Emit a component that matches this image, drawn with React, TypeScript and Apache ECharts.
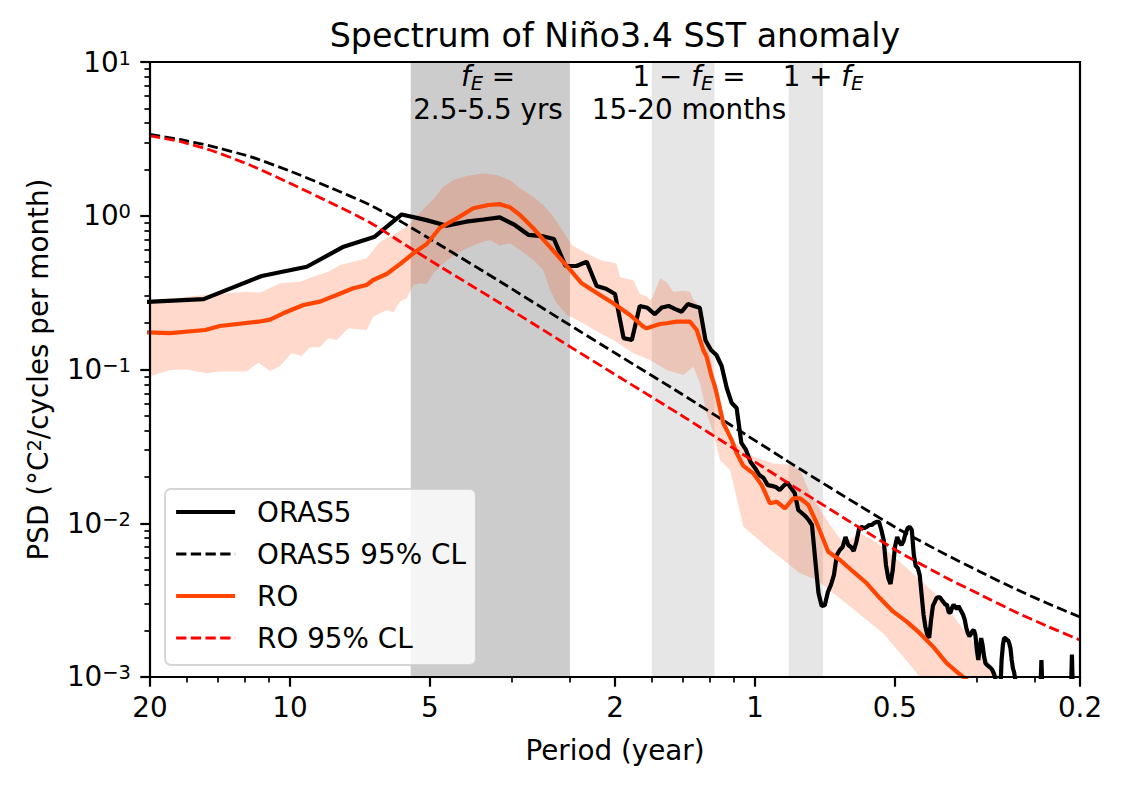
import React, { useEffect, useRef } from "react";
import * as echarts from "echarts";

const FONT = "DejaVu Sans";
const FS = 27.8; // 10pt at 200 dpi
const FS_SMALL = 19.5;

// ---------------- data ----------------
// x axis is frequency (cycles per year), labelled with period (years)
const xTickPeriods = [20, 10, 5, 2, 1, 0.5, 0.2];
const xMinorFreq = [0.06, 0.07, 0.08, 0.09, 0.3, 0.4, 0.6, 0.7, 0.8, 0.9, 3, 4];
const yTickValues = [0.001, 0.01, 0.1, 1, 10];
const yMinorValues = [
  0.002, 0.003, 0.004, 0.005, 0.006, 0.007, 0.008, 0.009,
  0.02, 0.03, 0.04, 0.05, 0.06, 0.07, 0.08, 0.09,
  0.2, 0.3, 0.4, 0.5, 0.6, 0.7, 0.8, 0.9,
  2, 3, 4, 5, 6, 7, 8, 9,
];

// f_E band, in years
const fePeriodYears = [2.5, 5.5];

// ORAS5 spectrum at Fourier frequencies k/46 cycles per year, k = 2, 3, ...
const ORAS5_DF = 1 / 46;
const ORAS5_K0 = 2;
const oras5Psd = [
  0.27, 0.287, 0.406, 0.466, 0.629, 0.731, 1.02, 0.94, 0.862,
  0.915, 0.945, 0.977, 0.871, 0.75, 0.738, 0.706, 0.471, 0.471, 0.502,
  0.349, 0.335, 0.31, 0.16, 0.1556, 0.259, 0.252, 0.2286, 0.253, 0.259,
  0.247, 0.2377, 0.2667, 0.259, 0.252, 0.155, 0.134, 0.1243, 0.1054, 0.0758,
  0.0605, 0.0562, 0.0333, 0.03, 0.025, 0.0229, 0.0206, 0.0197, 0.0177, 0.0175,
  0.0172, 0.01646, 0.0175, 0.01835, 0.01696, 0.01573, 0.0122, 0.01166, 0.01115, 0.0105,
  0.00974, 0.00577, 0.00352, 0.0029, 0.00293, 0.00357, 0.00397, 0.0046, 0.00622, 0.0067,
  0.00701, 0.00814, 0.00722, 0.00701, 0.0066, 0.00755, 0.00918, 0.00946, 0.0093, 0.00946,
  0.00974, 0.00974, 0.01004, 0.0102, 0.0102, 0.00904, 0.00778, 0.00535, 0.0044, 0.00403,
  0.00497, 0.00701, 0.00814, 0.00755, 0.00722, 0.00766, 0.00864, 0.0093, 0.00946, 0.00904,
  0.00622, 0.00527, 0.00512, 0.0046, 0.00341, 0.00253, 0.00211, 0.00188, 0.0018, 0.00235,
  0.0029, 0.00307, 0.00326, 0.0033, 0.0033, 0.00317, 0.00307, 0.00296, 0.00296, 0.00265,
  0.0026, 0.00281, 0.00296, 0.00285, 0.00277, 0.0029, 0.00277, 0.00265, 0.00253, 0.00235,
  0.00208, 0.00193, 0.00184, 0.0019, 0.00199, 0.00202, 0.00188, 0.0015, 0.00129, 0.00154,
  0.00179, 0.00161, 0.00137, 0.00123, 0.0012, 0.00118, 0.00116, 0.00114, 0.00111, 0.00106,
  0.001, 0.00089, 0.0008, 0.0008, 0.0008, 0.00129, 0.00161, 0.00179, 0.00179, 0.00174,
  0.00174, 0.00166, 0.00154, 0.00129, 0.00114, 0.00107, 0.00095, 0.0008, 0.0008, 0.0008,
  0.0008, 0.0008, 0.0008, 0.0008, 0.0008, 0.0008, 0.0008, 0.0008, 0.0008, 0.0008,
  0.0008, 0.0008, 0.0008, 0.0008, 0.0008, 0.0008, 0.0008, 0.0008, 0.0008, 0.00129,
  0.0008, 0.0008, 0.0008, 0.0008, 0.0008, 0.0008, 0.0008, 0.0008, 0.0008, 0.0008,
  0.0008, 0.0008, 0.0008, 0.0008, 0.0008, 0.0008, 0.0008, 0.0008, 0.0008, 0.0008,
  0.0008, 0.0008, 0.0008, 0.0008, 0.0008, 0.0008, 0.0008, 0.0008, 0.0008, 0.0008,
  0.0014, 0.0008, 0.0008, 0.0008, 0.0008, 0.0008, 0.0008, 0.0008, 0.0008, 0.0008,
];

// ORAS5 95% confidence level (red-noise)
const oras5ClFreq = [0.05, 0.058, 0.0673, 0.082, 0.1, 0.122, 0.1486, 0.1724, 0.2102, 0.2828, 0.3809, 0.5124, 0.69, 0.9286, 1.25, 1.6825, 2.051, 2.584, 3.047, 3.594, 4.24, 5.0];
const oras5Cl = [3.377, 3.133, 2.843, 2.429, 1.954, 1.526, 1.175, 0.9245, 0.6453, 0.3736, 0.2131, 0.1224, 0.07034, 0.03981, 0.02253, 0.01295, 0.009039, 0.006216, 0.004841, 0.003792, 0.003029, 0.002456];

// RO ensemble-mean spectrum
const roFreq = [0.048, 0.0552, 0.0657, 0.0707, 0.0855, 0.0906, 0.0967, 0.1069, 0.116, 0.126, 0.1368, 0.1462, 0.151, 0.1614, 0.1724, 0.1842, 0.1968, 0.2102, 0.2284, 0.2479, 0.267, 0.2828, 0.2973, 0.3124, 0.3336, 0.3566, 0.3809, 0.4036, 0.424, 0.4642, 0.4958, 0.5385, 0.5754, 0.585, 0.625, 0.646, 0.6786, 0.725, 0.7494, 0.774, 0.787, 0.807, 0.8204, 0.827, 0.841, 0.855, 0.8695, 0.891, 0.9136, 0.944, 0.9917, 1.034, 1.077, 1.114, 1.16, 1.209, 1.25, 1.3025, 1.358, 1.4375, 1.5235, 1.6275, 1.739, 1.8575, 1.984, 2.12, 2.2645, 2.418, 2.584, 2.737, 2.829, 3.047];
const roPsd = [0.175, 0.1724, 0.1807, 0.1919, 0.2046, 0.211, 0.232, 0.2627, 0.2764, 0.305, 0.3374, 0.3546, 0.382, 0.418, 0.485, 0.57, 0.655, 0.835, 0.962, 1.118, 1.175, 1.19, 1.135, 1.011, 0.829, 0.662, 0.529, 0.4326, 0.3636, 0.305, 0.2695, 0.2262, 0.19, 0.1854, 0.1977, 0.1998, 0.2046, 0.2046, 0.1807, 0.134, 0.121, 0.0898, 0.0773, 0.07, 0.0556, 0.0447, 0.0404, 0.0348, 0.0285, 0.0236, 0.0211, 0.0177, 0.01349, 0.0138, 0.0125, 0.01454, 0.01454, 0.01315, 0.01, 0.00653, 0.00577, 0.00484, 0.00407, 0.00325, 0.00266, 0.00229, 0.00192, 0.00157, 0.00123, 0.00106, 0.00098, 0.0008];

// RO ensemble spread (upper / lower)
const roUpperFreq = [0.048, 0.0552, 0.05996, 0.0657, 0.0807, 0.0862, 0.0952, 0.1051, 0.1122, 0.1209, 0.1281, 0.1368, 0.1462, 0.1561, 0.1668, 0.1782, 0.1904, 0.2034, 0.2137, 0.2246, 0.24, 0.2605, 0.2783, 0.2973, 0.3124, 0.3336, 0.3506, 0.3684, 0.3871, 0.4036, 0.4346, 0.4642, 0.504, 0.5124, 0.5475, 0.566, 0.585, 0.5947, 0.6044, 0.625, 0.646, 0.6673, 0.701, 0.725, 0.737, 0.7494, 0.7617, 0.774, 0.8002, 0.8204, 0.841, 0.8695, 0.9286, 0.9917, 1.095, 1.189, 1.25, 1.313, 1.4265, 1.5485, 1.6825, 1.827, 1.92, 2.051, 2.2645, 2.5, 2.76, 3.047, 3.365, 3.536, 5.0];
const roUpper = [0.27, 0.285, 0.2975, 0.305, 0.3206, 0.316, 0.3636, 0.372, 0.4015, 0.4326, 0.478, 0.5025, 0.529, 0.678, 0.75, 0.849, 1.05, 1.28, 1.545, 1.708, 1.814, 1.888, 1.84, 1.708, 1.508, 1.33, 1.175, 0.986, 0.788, 0.645, 0.57, 0.516, 0.49, 0.4, 0.38, 0.31, 0.3, 0.283, 0.3, 0.392, 0.37, 0.32, 0.325, 0.3206, 0.283, 0.2695, 0.2205, 0.19, 0.125, 0.0855, 0.05, 0.0366, 0.0315, 0.0271, 0.0245, 0.024, 0.0222, 0.01567, 0.0105, 0.0074, 0.0086, 0.0075, 0.00662, 0.0056, 0.00428, 0.00327, 0.00218, 0.0015, 0.001, 0.0008, 0.0005];
const roLowerFreq = [0.048, 0.0552, 0.05996, 0.0662, 0.0707, 0.0807, 0.0855, 0.0906, 0.0952, 0.1008, 0.106, 0.1104, 0.116, 0.1209, 0.126, 0.1335, 0.1462, 0.151, 0.1614, 0.1668, 0.1724, 0.1782, 0.1842, 0.1904, 0.1968, 0.2034, 0.2137, 0.2284, 0.2439, 0.2605, 0.2692, 0.2828, 0.2973, 0.3124, 0.3336, 0.3506, 0.3624, 0.3747, 0.3937, 0.4274, 0.4642, 0.4958, 0.5475, 0.5947, 0.646, 0.701, 0.737, 0.7617, 0.787, 0.811, 0.841, 0.884, 0.944, 1.06, 1.15, 1.25, 1.358, 1.474, 1.601, 1.739, 1.888, 2.051, 2.2275, 2.321, 2.5, 5.0];
const roLower = [0.087, 0.0992, 0.1, 0.0945, 0.097, 0.097, 0.1107, 0.0977, 0.1054, 0.1274, 0.1226, 0.1394, 0.1394, 0.1596, 0.1556, 0.1854, 0.1807, 0.2205, 0.2434, 0.235, 0.2764, 0.29, 0.3546, 0.3636, 0.36, 0.422, 0.49, 0.57, 0.629, 0.678, 0.6956, 0.64, 0.662, 0.599, 0.516, 0.4438, 0.329, 0.2695, 0.2262, 0.1998, 0.172, 0.1556, 0.1274, 0.1153, 0.0992, 0.092, 0.1043, 0.0813, 0.0519, 0.04, 0.0258, 0.0222, 0.0095, 0.00704, 0.00577, 0.00473, 0.00428, 0.0035, 0.00287, 0.00235, 0.00192, 0.00143, 0.00106, 0.00085, 0.0006, 0.0004];

// RO 95% confidence level (red-noise)
const roClFreq = [0.05, 0.058, 0.0673, 0.082, 0.1, 0.122, 0.1486, 0.1724, 0.2102, 0.2828, 0.3809, 0.5124, 0.69, 0.9286, 1.25, 1.6825, 2.051, 2.584, 3.047, 3.594, 4.24, 5.0];
const roCl = [3.302, 3.041, 2.677, 2.138, 1.626, 1.219, 0.9038, 0.68, 0.4677, 0.2707, 0.1544, 0.08872, 0.05096, 0.02885, 0.01633, 0.009314, 0.006452, 0.004404, 0.003441, 0.002688, 0.002147, 0.00174];

// ---------------- chart ----------------
const X_MIN = 1 / xTickPeriods[0];
const X_MAX = 1 / xTickPeriods[xTickPeriods.length - 1];
const Y_MIN = yTickValues[0];
const Y_MAX = yTickValues[yTickValues.length - 1];

const inside = (v: number, lo: number, hi: number) => Math.min(Math.max(v, lo * 1.000001), hi * 0.999999);

function pairs(xs: number[], ys: number[]) {
  return xs.map((x, i) => [x, ys[i]]);
}

export default function App() {
  const ref = useRef<HTMLDivElement>(null);

  useEffect(() => {
    const chart = echarts.init(ref.current as HTMLDivElement, null, { renderer: "svg" });

    const feLo = 1 / fePeriodYears[1];
    const feHi = 1 / fePeriodYears[0];
    const bandRanges = [
      [feLo, feHi],
      [1 - feHi, 1 - feLo],
      [1 + feLo, 1 + feHi],
    ];
    const bandColors = ["rgba(128,128,128,0.4)", "rgba(128,128,128,0.2)", "rgba(128,128,128,0.2)"];

    const xMajor = xTickPeriods.map((p) => inside(1 / p, X_MIN, X_MAX));
    const yMajor = yTickValues.map((v) => inside(v, Y_MIN, Y_MAX));

    const oras5 = oras5Psd.map((v, i) => [(i + ORAS5_K0) * ORAS5_DF, v]);

    const dash = [10.3, 4.4];
    const annRich = {
      n: { fontSize: FS, fontFamily: FONT, color: "#000", lineHeight: 33 },
      i: { fontSize: FS, fontFamily: FONT, color: "#000", fontStyle: "italic", lineHeight: 33 },
      s: { fontSize: FS_SMALL, fontFamily: FONT, color: "#000", fontStyle: "italic", verticalAlign: "bottom", lineHeight: 20 },
    };

    const noSym = { opacity: 0 };

    const option: any = {
      animation: false,
      backgroundColor: "#fff",
      textStyle: { fontFamily: FONT },
      title: {
        text: "Spectrum of Niño3.4 SST anomaly",
        left: 615,
        top: 19,
        padding: 0,
        textAlign: "center",
        textStyle: { fontSize: 33.3, fontWeight: "normal", fontFamily: FONT, color: "#000" },
      },
      grid: {
        left: 150,
        top: 62,
        width: 930,
        height: 615,
        show: true,
        z: 10,
        borderColor: "#000",
        borderWidth: 2.2,
        backgroundColor: "transparent",
        containLabel: false,
        outerBoundsMode: "none",
      },
      legend: {
        data: [
          { name: "ORAS5", itemStyle: noSym, lineStyle: { width: 4.2, color: "#000", type: "solid" } },
          { name: "ORAS5 95% CL", itemStyle: noSym, lineStyle: { width: 2.8, color: "#000", type: dash } },
          { name: "RO", itemStyle: noSym, lineStyle: { width: 4.2, color: "#ff4500", type: "solid" } },
          { name: "RO 95% CL", itemStyle: noSym, lineStyle: { width: 2.8, color: "#ff0000", type: dash } },
        ],
        orient: "vertical",
        left: 165,
        top: 489,
        z: 20,
        itemWidth: 59,
        itemHeight: 14,
        itemGap: 10,
        padding: [7, 10, 11, 9],
        backgroundColor: "rgba(255,255,255,0.8)",
        borderColor: "rgba(204,204,204,0.8)",
        borderWidth: 2,
        borderRadius: 6,
        selectedMode: false,
        itemStyle: noSym,
        textStyle: { fontSize: FS, fontFamily: FONT, color: "#000", lineHeight: 32, padding: [0, 0, 0, 17] },
      },
      xAxis: [
        {
          type: "log",
          logBase: 10,
          min: X_MIN,
          max: X_MAX,
          position: "bottom",
          axisLine: { show: false },
          splitLine: { show: false },
          axisTick: { show: true, length: 9.7, lineStyle: { color: "#000", width: 2.2 }, customValues: xMajor },
          axisLabel: {
            customValues: xMajor,
            margin: 16,
            fontSize: FS,
            fontFamily: FONT,
            color: "#000",
            formatter: (v: number) => String(Math.round((1 / v) * 100) / 100),
          },
          name: "Period (year)",
          nameLocation: "middle",
          nameGap: 59,
          nameTextStyle: { fontSize: FS, fontFamily: FONT, color: "#000" },
        },
        {
          type: "log",
          logBase: 10,
          min: X_MIN,
          max: X_MAX,
          position: "bottom",
          axisLine: { show: false },
          splitLine: { show: false },
          axisLabel: { show: false },
          axisTick: { show: true, length: 5.6, lineStyle: { color: "#000", width: 1.7 }, customValues: xMinorFreq },
        },
      ],
      yAxis: [
        {
          type: "log",
          logBase: 10,
          min: Y_MIN,
          max: Y_MAX,
          position: "left",
          axisLine: { show: false },
          splitLine: { show: false },
          axisTick: { show: true, length: 9.7, lineStyle: { color: "#000", width: 2.2 }, customValues: yMajor },
          axisLabel: {
            customValues: yMajor,
            margin: 19,
            color: "#000",
            formatter: (v: number) => {
              const e = Math.round(Math.log10(v));
              return "{b|10}{s|" + (e < 0 ? "\u2212" + -e : String(e)) + "}";
            },
            rich: {
              b: { fontSize: FS, fontFamily: FONT, color: "#000" },
              s: { fontSize: FS_SMALL, fontFamily: FONT, color: "#000", verticalAlign: "top" },
            },
          },
          name: "{a|PSD (°C}{s|2}{a|/cycles per month)}",
          nameLocation: "middle",
          nameGap: 98,
          nameTextStyle: {
            fontSize: FS,
            fontFamily: FONT,
            color: "#000",
            rich: {
              a: { fontSize: FS, fontFamily: FONT, color: "#000" },
              s: { fontSize: FS_SMALL, fontFamily: FONT, color: "#000", verticalAlign: "top" },
            },
          },
        },
        {
          type: "log",
          logBase: 10,
          min: Y_MIN,
          max: Y_MAX,
          position: "left",
          axisLine: { show: false },
          splitLine: { show: false },
          axisLabel: { show: false },
          axisTick: { show: true, length: 5.6, lineStyle: { color: "#000", width: 1.7 }, customValues: yMinorValues },
        },
      ],
      graphic: [
        {
          type: "text",
          x: 488,
          y: 60,
          z: 15,
          style: { text: "{i|f}{s|E}{n| =}\n{n|2.5-5.5 yrs}", align: "center", verticalAlign: "top", rich: annRich },
        },
        {
          type: "text",
          x: 689,
          y: 60,
          z: 15,
          style: { text: "{n|1 \u2212 }{i|f}{s|E}{n| =}\n{n|15-20 months}", align: "center", verticalAlign: "top", rich: annRich },
        },
        {
          type: "text",
          x: 823,
          y: 60,
          z: 15,
          style: { text: "{n|1 + }{i|f}{s|E}", align: "center", verticalAlign: "top", rich: annRich },
        },
      ],
      series: [
        {
          type: "custom",
          name: "fE bands",
          z: 1,
          silent: true,
          data: bandRanges,
          encode: { x: [0, 1] },
          renderItem: (params: any, api: any) => {
            const cs = params.coordSys;
            const a = api.coord([api.value(0), 1])[0];
            const b = api.coord([api.value(1), 1])[0];
            return {
              type: "rect",
              shape: { x: Math.min(a, b), y: cs.y, width: Math.abs(b - a), height: cs.height },
              style: { fill: bandColors[params.dataIndex] },
            };
          },
        },
        {
          type: "custom",
          name: "RO spread",
          z: 2,
          silent: true,
          data: [[roUpperFreq[0], roUpper[0]]],
          encode: { x: 0, y: 1 },
          renderItem: (params: any, api: any) => {
            const pts: number[][] = [];
            for (let i = 0; i < roUpperFreq.length; i++) pts.push(api.coord([roUpperFreq[i], roUpper[i]]));
            for (let i = roLowerFreq.length - 1; i >= 0; i--) pts.push(api.coord([roLowerFreq[i], roLower[i]]));
            const cs = params.coordSys;
            return {
              type: "polygon",
              shape: { points: pts },
              style: { fill: "rgba(255,69,0,0.2)" },
              clipPath: { type: "rect", shape: { x: cs.x, y: cs.y, width: cs.width, height: cs.height } },
            };
          },
        },
        {
          type: "line",
          name: "ORAS5",
          z: 3,
          data: oras5,
          symbol: "none",
          lineStyle: { color: "#000", width: 4.2 },
          itemStyle: { color: "#000" },
        },
        {
          type: "line",
          name: "ORAS5 95% CL",
          z: 4,
          data: pairs(oras5ClFreq, oras5Cl),
          symbol: "none",
          smooth: 0.2,
          lineStyle: { color: "#000", width: 2.8, type: dash },
          itemStyle: { color: "#000" },
        },
        {
          type: "line",
          name: "RO",
          z: 5,
          data: pairs(roFreq, roPsd),
          symbol: "none",
          lineStyle: { color: "#ff4500", width: 4.2 },
          itemStyle: { color: "#ff4500" },
        },
        {
          type: "line",
          name: "RO 95% CL",
          z: 6,
          data: pairs(roClFreq, roCl),
          symbol: "none",
          smooth: 0.2,
          lineStyle: { color: "#ff0000", width: 2.8, type: dash },
          itemStyle: { color: "#ff0000" },
        },
      ],
    };

    chart.setOption(option);
    return () => chart.dispose();
  }, []);

  return <div ref={ref} style={{ position: "fixed", left: 0, top: 0, width: 1123, height: 785 }} />;
}
